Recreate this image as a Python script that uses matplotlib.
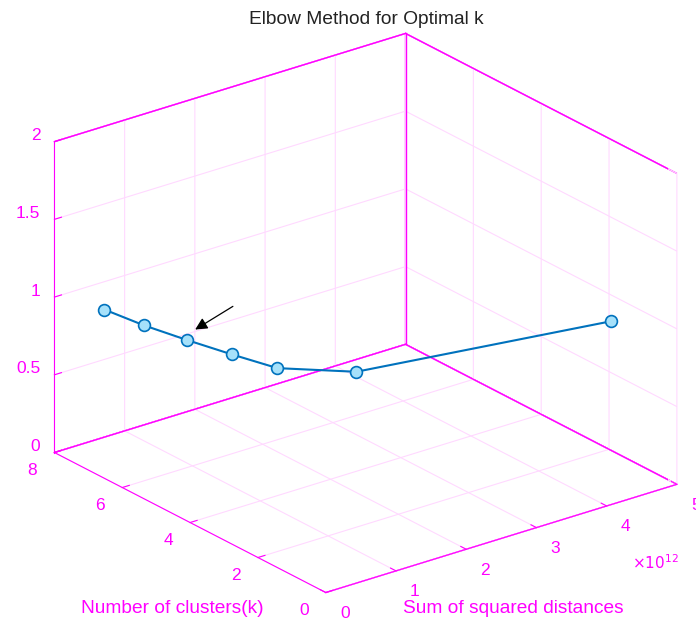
import numpy as np
import matplotlib
matplotlib.use('Agg')
import matplotlib.pyplot as plt
from mpl_toolkits.mplot3d import proj3d

# elbow curve values
k_values = [1, 2, 3, 4, 5, 6, 7]
sse_values = [4.54e12, 1.40e12, 0.76e12, 0.59e12, 0.44e12, 0.31e12, 0.23e12]
z_values = [1, 1, 1, 1, 1, 1, 1]

x_ticks = [0, 1e12, 2e12, 3e12, 4e12, 5e12]
y_ticks = [0, 2, 4, 6, 8]
z_ticks = [0, 0.5, 1, 1.5, 2]
x_ticklabels = ['0', '1', '2', '3', '4', '5']
y_ticklabels = ['0', '2', '4', '6', '8']
z_ticklabels = ['0', '0.5', '1', '1.5', '2']

mag = '#ff00ff'
plt.rcParams['font.family'] = ['Liberation Sans', 'DejaVu Sans']
plt.rcParams['grid.color'] = '#ffd9ff'
plt.rcParams['grid.linewidth'] = 0.8

fig = plt.figure(figsize=(6.96, 6.21), dpi=100)
ax = fig.add_subplot(111, projection='3d', proj_type='ortho')
ax.set_position([0.0133, -0.0175, 1.0, 1.0])
ax.view_init(elev=23.5, azim=-127.7)
ax.set_box_aspect((1, 1, 0.764), zoom=1.115)

x0, x1 = x_ticks[0], x_ticks[-1]
y0, y1 = y_ticks[0], y_ticks[-1]
z0, z1 = z_ticks[0], z_ticks[-1]
ax.set_xlim(x0, x1)
ax.set_ylim(y0, y1)
ax.set_zlim(z0, z1)
ax.set_xticks(x_ticks)
ax.set_yticks(y_ticks)
ax.set_zticks(z_ticks)
ax.set_xticklabels([])
ax.set_yticklabels([])
ax.set_zticklabels([])

for axis in (ax.xaxis, ax.yaxis, ax.zaxis):
    axis.set_pane_color((1, 1, 1, 1))
    axis.pane.set_edgecolor(mag)
    axis.line.set_color(mag)
    axis.set_tick_params(colors=mag)
    axis._axinfo['tick']['inward_factor'] = 0.0
    axis._axinfo['tick']['outward_factor'] = 0.25

# back box edges (MATLAB "box on")
edge = dict(color=mag, lw=1.0)
ax.plot([x0, x1], [y1, y1], [z1, z1], **edge)
ax.plot([x1, x1], [y0, y1], [z1, z1], **edge)
ax.plot([x1, x1], [y1, y1], [z0, z1], **edge)
ax.plot([x1, x1], [y0, y0], [z0, z1], **edge)
ax.plot([x0, x1], [y1, y1], [z0, z0], **edge)
ax.plot([x1, x1], [y0, y1], [z0, z0], **edge)

ax.plot(sse_values, k_values, z_values, color='#0072bd', lw=1.5,
        marker='o', markersize=8.5, markerfacecolor='#a6e1fa',
        markeredgecolor='#0072bd', markeredgewidth=1.2)

fig.canvas.draw()


def to_fig(x, y, z):
    px, py, _ = proj3d.proj_transform(x, y, z, ax.get_proj())
    return ax.transData.transform((px, py))


def put(pix, dx, dy, s, ha='center'):
    fx, fy = fig.transFigure.inverted().transform((pix[0] + dx, pix[1] - dy))
    fig.text(fx, fy, s, color=mag, fontsize=12.5, ha=ha, va='center')


for v, s in zip(x_ticks, x_ticklabels):
    put(to_fig(v, y0, z0), 19, 21, s)
for v, s in zip(y_ticks, y_ticklabels):
    put(to_fig(x0, v, z0), -22, 18, s)
for v, s in zip(z_ticks, z_ticklabels):
    put(to_fig(x0, y1, v), -14, -6, s, ha='right')

fig.text(0.579, 0.020, 'Sum of squared distances', color=mag,
         fontsize=13.8, ha='left', va='center')
fig.text(0.116, 0.020, 'Number of clusters(k)', color=mag,
         fontsize=13.8, ha='left', va='center')
fig.text(0.526, 0.968, 'Elbow Method for Optimal k', color='#222222',
         fontsize=13.8, ha='center', va='center')
fig.text(0.908, 0.094, r'$\times 10^{12}$', color=mag, fontsize=11,
         va='center')

ax.annotate('', xy=(0.277, 0.467), xytext=(0.338, 0.509),
            xycoords='figure fraction', textcoords='figure fraction',
            arrowprops=dict(arrowstyle='-|>', color='black', lw=0.9,
                            mutation_scale=18))

fig.savefig('out.png', dpi=100)
